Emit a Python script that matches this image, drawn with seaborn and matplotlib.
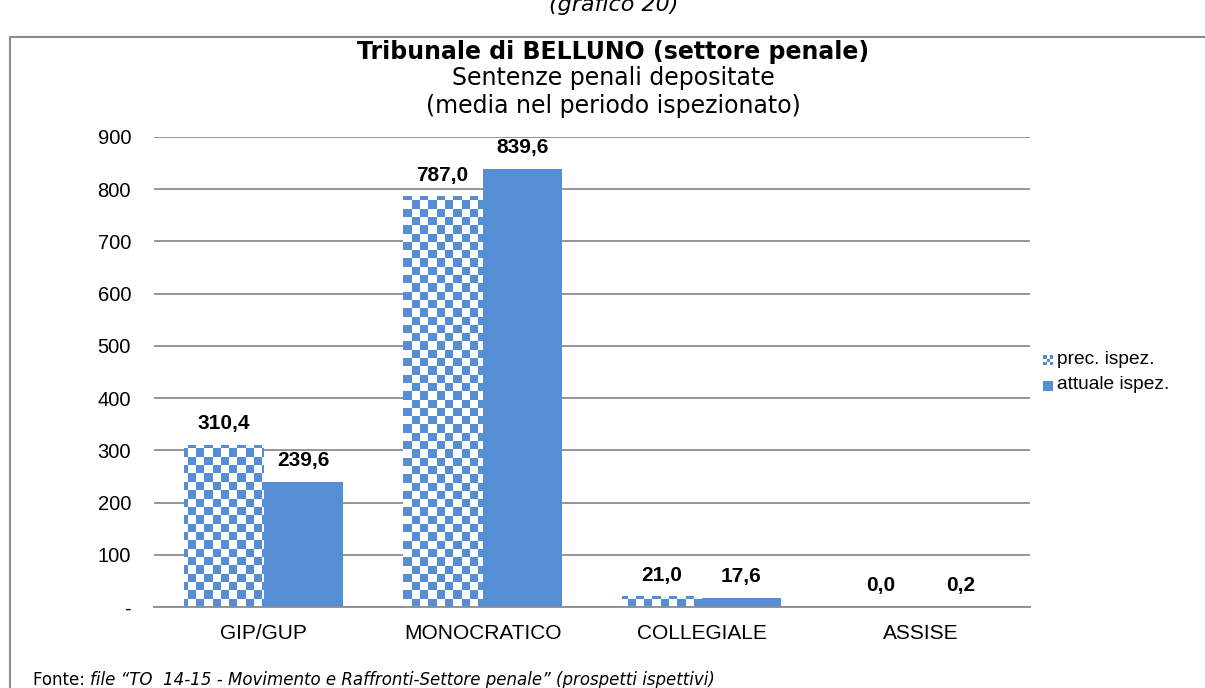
import numpy as np
import pandas as pd
import seaborn as sns
from matplotlib import pyplot as plt
from matplotlib.patches import Rectangle
from matplotlib.colors import ListedColormap
from matplotlib.legend_handler import HandlerBase

categories = ['GIP/GUP', 'MONOCRATICO', 'COLLEGIALE', 'ASSISE']
series = ['prec. ispez.', 'attuale ispez.']
prec = [310.4, 787.0, 21.0, 0.0]
attuale = [239.6, 839.6, 17.6, 0.2]
yticks = [0, 100, 200, 300, 400, 500, 600, 700, 800, 900]
yticklabels = ['-', '100', '200', '300', '400', '500', '600', '700', '800', '900']

blue = '#558ED5'
grey = '#8c8c8c'
W, H = 1205, 688

df = pd.DataFrame({
    'cat': categories * 2,
    'serie': [series[0]] * 4 + [series[1]] * 4,
    'val': prec + attuale,
})

sns.set_style('white')
plt.rcParams['font.family'] = ['Liberation Sans', 'DejaVu Sans']
plt.rcParams['text.color'] = 'black'
plt.rcParams['xtick.color'] = 'black'
plt.rcParams['ytick.color'] = 'black'

fig = plt.figure(figsize=(W / 100, H / 100), dpi=100)
ax = fig.add_axes([154 / W, 1 - 607 / H, 876 / W, 470 / H])

sns.barplot(data=df, x='cat', y='val', hue='serie', order=categories,
            hue_order=series, palette=[blue, blue], width=0.73, saturation=1,
            linewidth=0, ax=ax, legend=False, zorder=2)

ax.set_xlim(-0.5, 3.5)
ax.set_ylim(0, 900)
ax.set_yticks(yticks)
ax.set_yticklabels(yticklabels, fontsize=14.5)
ax.tick_params(axis='x', labelsize=15, length=0, pad=12)
ax.tick_params(axis='y', length=0, pad=16.5)
ax.set_xlabel('')
ax.set_ylabel('')
ax.yaxis.grid(True, color=grey, linewidth=1.3)
ax.set_axisbelow(True)
for s in ['top', 'right', 'left']:
    ax.spines[s].set_visible(False)
ax.spines['bottom'].set_color(grey)
ax.spines['bottom'].set_linewidth(1.3)

# checkerboard fill for the previous-inspection bars
sq = 8.3  # pixel size of one square
nx, ny = int(876 / sq) + 2, int(470 / sq) + 2
checker = (np.add.outer(np.arange(ny), np.arange(nx)) % 2).astype(float)
cmap = ListedColormap(['white', blue])
prec_bars = ax.patches[:4]
att_bars = ax.patches[4:8]
for b in prec_bars:
    b.set_facecolor('none')
    b.set_edgecolor('none')
    im = ax.imshow(checker, cmap=cmap, origin='lower', interpolation='nearest',
                   aspect='auto', zorder=2,
                   extent=[-0.5, -0.5 + nx * sq / 219, 0, ny * sq * 900 / 470])
    im.set_clip_path(b)
ax.set_xlim(-0.5, 3.5)
ax.set_ylim(0, 900)

# data labels
for vals, bars in [(prec, prec_bars), (attuale, att_bars)]:
    for v, b in zip(vals, bars):
        ax.annotate(f'{v:.1f}'.replace('.', ','), (b.get_x() + b.get_width() / 2, b.get_height()),
                    xytext=(0, 21), textcoords='offset pixels', ha='center', va='center',
                    fontsize=15, fontweight='bold')


class CheckerHandler(HandlerBase):
    def __init__(self, checked):
        super().__init__()
        self.checked = checked

    def create_artists(self, legend, orig, xd, yd, w, h, fs, trans):
        s = min(w, h)
        x0 = xd + (w - s) / 2
        if not self.checked:
            return [Rectangle((x0, yd), s, s, facecolor=blue, edgecolor='none', transform=trans)]
        arts = []
        n = 3
        d = s / n
        for r in range(n):
            for c in range(n):
                col = blue if (r + c) % 2 == 0 else 'white'
                arts.append(Rectangle((x0 + c * d, yd + r * d), d, d, facecolor=col,
                                      edgecolor='none', transform=trans))
        return arts


h1 = Rectangle((0, 0), 1, 1)
h2 = Rectangle((0, 0), 1, 1)
ax.legend([h1, h2], series, handler_map={h1: CheckerHandler(True), h2: CheckerHandler(False)},
          loc='center left', bbox_to_anchor=(1.0, 0.5), frameon=False, fontsize=13.8,
          handlelength=0.5, handleheight=0.5, handletextpad=0.2, labelspacing=0.45,
          borderaxespad=0.3)

# titles
tx = 613 / W
fig.text(tx, 1 - 52 / H, 'Tribunale di BELLUNO (settore penale)', ha='center', va='center',
         fontsize=17, fontweight='bold', family='DejaVu Sans')
fig.text(tx, 1 - 78 / H, 'Sentenze penali depositate', ha='center', va='center',
         fontsize=17, family='DejaVu Sans')
fig.text(tx, 1 - 106 / H, '(media nel periodo ispezionato)', ha='center', va='center',
         fontsize=17, family='DejaVu Sans')
fig.text(614 / W, 1 - 11 / H, '(grafico 20)', ha='center', va='baseline',
         fontsize=16, style='italic', family='DejaVu Sans')

# chart frame
fig.add_artist(Rectangle((10 / W, -0.1), 1.2, 1 - 37 / H + 0.1, transform=fig.transFigure,
                         facecolor='none', edgecolor=grey, linewidth=1.5))

# source note
t1 = fig.text(33 / W, 3 / H, 'Fonte: ', ha='left', va='baseline', fontsize=12, family='DejaVu Sans')
fig.canvas.draw()
x_end = t1.get_window_extent().x1
fig.text(x_end / W, 3 / H, 'file \u201cTO  14-15 - Movimento e Raffronti-Settore penale\u201d (prospetti ispettivi)',
         ha='left', va='baseline', fontsize=12, style='italic', family='DejaVu Sans')

fig.savefig('out.png', dpi=100)
